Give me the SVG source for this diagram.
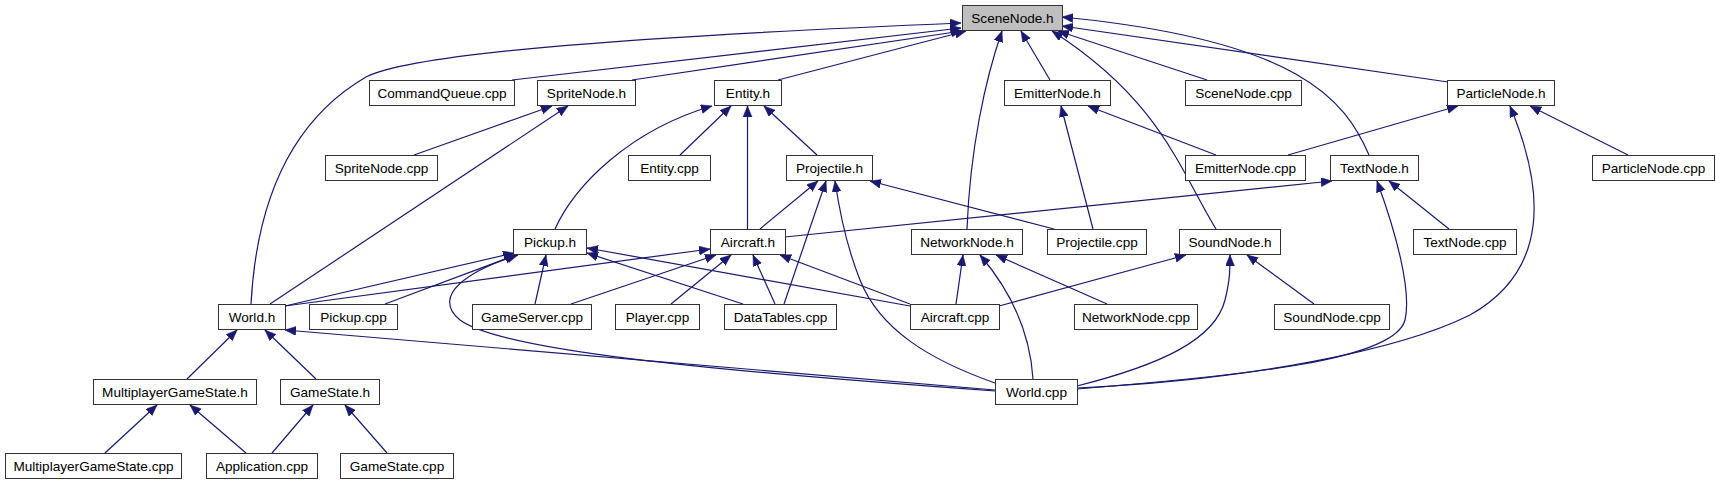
<svg xmlns="http://www.w3.org/2000/svg" width="1717" height="485" viewBox="0 0 1717 485">
<style>
.n rect{fill:#fff;stroke:#333;stroke-width:1}
.n.root rect{fill:#bfbfbf}
.n text{font-family:"Liberation Sans",Arial,sans-serif;font-size:13.6px;fill:#000;text-anchor:middle}
.e path{fill:none;stroke:#191970;stroke-width:1.2;marker-end:url(#ah)}
</style>
<defs>
<marker id="ah" markerUnits="userSpaceOnUse" markerWidth="12" markerHeight="10" refX="11" refY="4.5" orient="auto">
<path d="M0,0 L11,4.5 L0,9 z" fill="#191970" stroke="#191970" stroke-width="0.5"/>
</marker>
</defs>
<rect width="1717" height="485" fill="#fff"/>
<g id="edges" class="e">
<path d="M251,304 C255,230 275,130 366,77 C410,55 600,38 961,23"/>
<path d="M512,80 L961,28"/>
<path d="M632,80 L962,31"/>
<path d="M778,80 L966,31"/>
<path d="M967,229 C970,150 985,80 1002,31"/>
<path d="M1050,80 L1021,31"/>
<path d="M1216,229 C1180,170 1160,100 1052,31"/>
<path d="M1207,80 L1058,31"/>
<path d="M1448,82 L1062,26"/>
<path d="M1369,155 C1345,100 1300,40 1062,17"/>
<path d="M414,155 L552,106"/>
<path d="M270,304 L568,106"/>
<path d="M555,229 C575,185 630,130 712,106"/>
<path d="M680,155 L731,106"/>
<path d="M747.5,229 L747.5,106"/>
<path d="M817,155 L764,106"/>
<path d="M1216,155 L1088,106"/>
<path d="M1093,229 L1061,106"/>
<path d="M1288,155 L1458,106"/>
<path d="M1077,388 C1250,380 1400,350 1470,315 C1550,270 1545,190 1510,106"/>
<path d="M1628,155 L1530,106"/>
<path d="M785,237 L1332,181"/>
<path d="M1449,229 L1389,181"/>
<path d="M1077,389 C1250,375 1395,360 1405,320 C1412,290 1395,230 1377,181"/>
<path d="M760,229 L818,181"/>
<path d="M784,304 L826,181"/>
<path d="M995,383 C930,360 880,330 860,280 C848,250 840,215 835,181"/>
<path d="M1054,229 L870,181"/>
<path d="M285,306 L514,253"/>
<path d="M385,304 L516,255"/>
<path d="M535,304 L546,255"/>
<path d="M743,304 L587,253"/>
<path d="M910,306 L587,248"/>
<path d="M995,391 C700,370 500,350 460,320 C430,295 470,270 518,255"/>
<path d="M285,306 L710,249"/>
<path d="M571,304 L716,255"/>
<path d="M671,304 L731,255"/>
<path d="M775,304 L753,255"/>
<path d="M910,304 L780,255"/>
<path d="M956,304 L963,255"/>
<path d="M1033,379 C1030,330 1010,290 980,255"/>
<path d="M1107,304 L996,255"/>
<path d="M999,306 L1186,255"/>
<path d="M1077,386 C1160,365 1215,340 1225,300 C1230,280 1230,270 1230,255"/>
<path d="M1314,304 L1247,255"/>
<path d="M187,379 L237,330"/>
<path d="M316,379 L265,330"/>
<path d="M995,390 L285,330"/>
<path d="M105,453 L157,405"/>
<path d="M246,453 L190,405"/>
<path d="M272,453 L313,405"/>
<path d="M387,453 L345,405"/>
</g>
<g id="SceneNode_h" class="n root"><rect x="962.5" y="5.5" width="100" height="25"/><text x="1012.5" y="22.5">SceneNode.h</text></g>
<g id="CommandQueue_cpp" class="n"><rect x="369.5" y="80.5" width="145" height="25"/><text x="442" y="97.5">CommandQueue.cpp</text></g>
<g id="SpriteNode_h" class="n"><rect x="537.5" y="80.5" width="98" height="25"/><text x="586.5" y="97.5">SpriteNode.h</text></g>
<g id="Entity_h" class="n"><rect x="714.5" y="80.5" width="67" height="25"/><text x="748" y="97.5">Entity.h</text></g>
<g id="EmitterNode_h" class="n"><rect x="1004.5" y="80.5" width="106" height="25"/><text x="1057.5" y="97.5">EmitterNode.h</text></g>
<g id="SceneNode_cpp" class="n"><rect x="1185.5" y="80.5" width="116" height="25"/><text x="1243.5" y="97.5">SceneNode.cpp</text></g>
<g id="ParticleNode_h" class="n"><rect x="1447.5" y="80.5" width="107" height="25"/><text x="1501" y="97.5">ParticleNode.h</text></g>
<g id="SpriteNode_cpp" class="n"><rect x="325.5" y="155.5" width="112" height="25"/><text x="381.5" y="172.5">SpriteNode.cpp</text></g>
<g id="Entity_cpp" class="n"><rect x="628.5" y="155.5" width="82" height="25"/><text x="669.5" y="172.5">Entity.cpp</text></g>
<g id="Projectile_h" class="n"><rect x="786.5" y="155.5" width="86" height="25"/><text x="829.5" y="172.5">Projectile.h</text></g>
<g id="EmitterNode_cpp" class="n"><rect x="1185.5" y="155.5" width="120" height="25"/><text x="1245.5" y="172.5">EmitterNode.cpp</text></g>
<g id="TextNode_h" class="n"><rect x="1330.5" y="155.5" width="88" height="25"/><text x="1374.5" y="172.5">TextNode.h</text></g>
<g id="ParticleNode_cpp" class="n"><rect x="1592.5" y="155.5" width="122" height="25"/><text x="1653.5" y="172.5">ParticleNode.cpp</text></g>
<g id="Pickup_h" class="n"><rect x="513.5" y="229.5" width="73" height="25"/><text x="550" y="246.5">Pickup.h</text></g>
<g id="Aircraft_h" class="n"><rect x="710.5" y="229.5" width="75" height="25"/><text x="748" y="246.5">Aircraft.h</text></g>
<g id="NetworkNode_h" class="n"><rect x="911.5" y="229.5" width="111" height="25"/><text x="967" y="246.5">NetworkNode.h</text></g>
<g id="Projectile_cpp" class="n"><rect x="1047.5" y="229.5" width="99" height="25"/><text x="1097" y="246.5">Projectile.cpp</text></g>
<g id="SoundNode_h" class="n"><rect x="1179.5" y="229.5" width="101" height="25"/><text x="1230" y="246.5">SoundNode.h</text></g>
<g id="TextNode_cpp" class="n"><rect x="1413.5" y="229.5" width="103" height="25"/><text x="1465" y="246.5">TextNode.cpp</text></g>
<g id="World_h" class="n"><rect x="218.5" y="304.5" width="67" height="25"/><text x="252" y="321.5">World.h</text></g>
<g id="Pickup_cpp" class="n"><rect x="309.5" y="304.5" width="88" height="25"/><text x="353.5" y="321.5">Pickup.cpp</text></g>
<g id="GameServer_cpp" class="n"><rect x="472.5" y="304.5" width="119" height="25"/><text x="532" y="321.5">GameServer.cpp</text></g>
<g id="Player_cpp" class="n"><rect x="615.5" y="304.5" width="84" height="25"/><text x="657.5" y="321.5">Player.cpp</text></g>
<g id="DataTables_cpp" class="n"><rect x="724.5" y="304.5" width="112" height="25"/><text x="780.5" y="321.5">DataTables.cpp</text></g>
<g id="Aircraft_cpp" class="n"><rect x="910.5" y="304.5" width="89" height="25"/><text x="955" y="321.5">Aircraft.cpp</text></g>
<g id="NetworkNode_cpp" class="n"><rect x="1074.5" y="304.5" width="123" height="25"/><text x="1136" y="321.5">NetworkNode.cpp</text></g>
<g id="SoundNode_cpp" class="n"><rect x="1274.5" y="304.5" width="115" height="25"/><text x="1332" y="321.5">SoundNode.cpp</text></g>
<g id="MultiplayerGameState_h" class="n"><rect x="93.5" y="379.5" width="163" height="25"/><text x="175" y="396.5">MultiplayerGameState.h</text></g>
<g id="GameState_h" class="n"><rect x="280.5" y="379.5" width="99" height="25"/><text x="330" y="396.5">GameState.h</text></g>
<g id="World_cpp" class="n"><rect x="995.5" y="379.5" width="82" height="25"/><text x="1036.5" y="396.5">World.cpp</text></g>
<g id="MultiplayerGameState_cpp" class="n"><rect x="5.5" y="453.5" width="176" height="25"/><text x="93.5" y="470.5">MultiplayerGameState.cpp</text></g>
<g id="Application_cpp" class="n"><rect x="206.5" y="453.5" width="111" height="25"/><text x="262" y="470.5">Application.cpp</text></g>
<g id="GameState_cpp" class="n"><rect x="340.5" y="453.5" width="113" height="25"/><text x="397" y="470.5">GameState.cpp</text></g>
</svg>
